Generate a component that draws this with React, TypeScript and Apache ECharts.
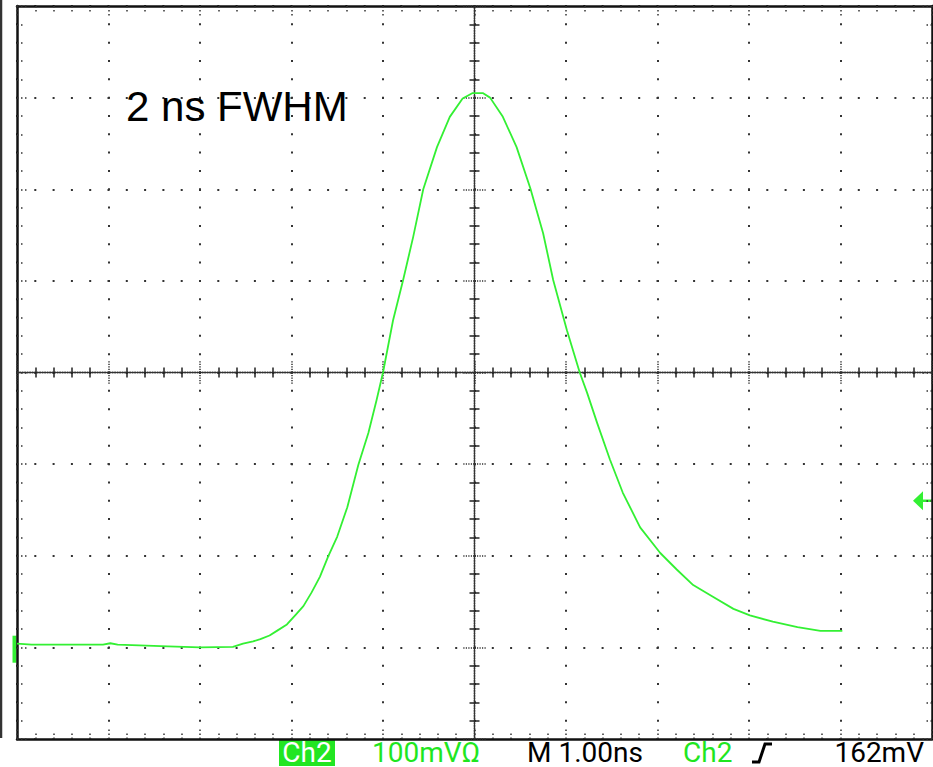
import React, { useEffect, useRef } from "react";
import * as echarts from "echarts";

// Time (ns, relative to screen centre) and voltage (mV, relative to screen centre)
const timeNs = [
  -5.0, -4.84, -4.06, -3.98, -3.9, -3.35, -3.0, -2.64, -2.53, -2.42, -2.34, -2.24, -2.16, -2.05,
  -1.96, -1.87, -1.78, -1.69, -1.6, -1.5, -1.39, -1.27, -1.16, -1.07, -1.0, -0.89, -0.78, -0.67,
  -0.56, -0.41, -0.27, -0.13, -0.02, 0.09, 0.17, 0.31, 0.46, 0.61, 0.75, 0.86, 1.01, 1.15, 1.23,
  1.34, 1.48, 1.62, 1.81, 2.03, 2.21, 2.39, 2.61, 2.83, 3.01, 3.26, 3.53, 3.78, 4.02,
];
const voltageMv = [
  -296, -297, -297, -295.5, -297, -299, -300, -299.5, -296, -293.5, -291, -287, -282, -275,
  -265, -255, -240, -223, -201, -179, -147, -101, -66, -30, 0, 57, 101, 148,
  200, 246, 279, 299, 305, 305, 300, 279, 246, 201, 152, 101, 46, 0, -22,
  -55, -95, -131, -169, -197, -215, -232, -245, -258, -265, -272, -278, -282, -282,
];

const xRange = [-5, 5]; // 1 ns / div
const yRange = [-400, 400]; // 100 mV / div
const GROUND_MV = -302;
const TRIGGER_MV = -140; // 162 mV above ground

const annotation = "2 ns FWHM";
const chLabel = "Ch2";
const voltsDiv = "100mV\u03A9";
const timeDiv = "M 1.00ns";
const trigSource = "Ch2";
const trigLevel = "162mV";

const GREEN = "#33f033";
const TEXT_GREEN = "#1fe61f";

export default function App() {
  const ref = useRef<HTMLDivElement>(null);
  useEffect(() => {
    document.body.style.margin = "0";
    if (!ref.current) return;
    const chart = echarts.init(ref.current, undefined, { renderer: "svg" });

    const dotted = { color: "#333", width: 1.5, type: [1.5, 2.5] as any };
    const borderX = (position: string) => ({
      type: "value",
      min: xRange[0],
      max: xRange[1],
      interval: 1,
      position,
      axisLine: { show: true, onZero: false, lineStyle: { color: "#111", width: 2.5 } },
      axisTick: { show: true, inside: true, length: 12, lineStyle: dotted },
      minorTick: { show: true, splitNumber: 5, length: 6, lineStyle: dotted },
      axisLabel: { show: false },
      splitLine: { show: false },
    });
    const borderY = (position: string) => ({
      type: "value",
      min: yRange[0],
      max: yRange[1],
      interval: 100,
      position,
      axisLine: { show: true, onZero: false, lineStyle: { color: "#111", width: 2.5 } },
      axisTick: { show: true, inside: true, length: 12, lineStyle: dotted },
      minorTick: { show: true, splitNumber: 5, length: 6, lineStyle: dotted },
      axisLabel: { show: false },
      splitLine: { show: false },
    });
    const centreLine = { color: "#333", width: 1.4, type: [1.2, 1.3] as any };
    const centreX = (position: string) => ({
      ...borderX(position),
      axisLine: { show: true, onZero: true, onZeroAxisIndex: 0, lineStyle: centreLine },
      axisTick: { show: true, inside: false, length: 12, lineStyle: { color: "#333", width: 1.5, type: [1.2, 1.3] as any } },
      minorTick: { show: true, splitNumber: 5, length: 5, lineStyle: { color: "#222", width: 1.5 } },
    });
    const centreY = (position: string) => ({
      ...borderY(position),
      axisLine: { show: true, onZero: true, onZeroAxisIndex: 0, lineStyle: centreLine },
      axisTick: { show: true, inside: false, length: 12, lineStyle: { color: "#333", width: 1.5, type: [1.2, 1.3] as any } },
      minorTick: { show: true, splitNumber: 5, length: 5, lineStyle: { color: "#222", width: 1.5 } },
    });

    const x0 = borderX("bottom") as any;
    x0.splitLine = {
      show: true,
      lineStyle: { color: "#333", width: 2, type: [2, 16.325], dashOffset: 1 },
    };
    const y0 = borderY("left") as any;
    y0.splitLine = {
      show: true,
      lineStyle: { color: "#333", width: 2, type: [2, 16.3], dashOffset: 1 },
    };

    chart.setOption({
      animation: false,
      backgroundColor: "#fff",
      grid: { left: 17, top: 6, width: 915, height: 733, containLabel: false, outerBoundsMode: "none" } as any,
      xAxis: [x0, borderX("top"), centreX("bottom"), centreX("top")],
      yAxis: [y0, borderY("right"), centreY("left"), centreY("right")],
      series: [
        {
          type: "line",
          xAxisIndex: 0,
          yAxisIndex: 0,
          data: timeNs.map((t, i) => [t, voltageMv[i]]),
          showSymbol: false,
          symbol: "none",
          smooth: false,
          lineStyle: { color: GREEN, width: 1.8, join: "round" },
          z: 5,
        },
      ],
    });

    const gy = chart.convertToPixel({ yAxisIndex: 0 }, GROUND_MV) as number;
    const ty = chart.convertToPixel({ yAxisIndex: 0 }, TRIGGER_MV) as number;

    const statusFont = { fontFamily: "Roboto", fontSize: 28, lineHeight: 22 };
    const sy = 752;
    chart.setOption({
      graphic: [
        { type: "line", shape: { x1: 1, y1: 0, x2: 1, y2: 738 }, style: { stroke: "#333", lineWidth: 2.5 } },
        { type: "rect", shape: { x: 12.5, y: gy - 13.5, width: 4, height: 27 }, style: { fill: GREEN } },
        {
          type: "polygon",
          shape: { points: [[913, ty], [923, ty - 9.5], [923, ty + 9.5]] },
          style: { fill: GREEN },
        },
        { type: "line", shape: { x1: 921, y1: ty, x2: 933, y2: ty }, style: { stroke: GREEN, lineWidth: 2.5 } },
        {
          type: "text",
          x: 126,
          y: 106,
          style: { text: annotation, fontFamily: "Liberation Sans", fontSize: 42, fill: "#000", verticalAlign: "middle", align: "left" },
        },
        { type: "rect", shape: { x: 279, y: 740, width: 56, height: 26 }, style: { fill: "#22e622" } },
        {
          type: "text",
          x: 307,
          y: sy,
          style: { text: chLabel, ...statusFont, fill: "#fff", align: "center", verticalAlign: "middle" },
        },
        {
          type: "text",
          x: 372,
          y: sy,
          style: { text: voltsDiv, ...statusFont, fill: TEXT_GREEN, align: "left", verticalAlign: "middle" },
        },
        {
          type: "text",
          x: 527,
          y: sy,
          style: { text: timeDiv, ...statusFont, fill: "#000", align: "left", verticalAlign: "middle" },
        },
        {
          type: "text",
          x: 683,
          y: sy,
          style: { text: trigSource, ...statusFont, fill: TEXT_GREEN, align: "left", verticalAlign: "middle" },
        },
        {
          type: "polyline",
          shape: { points: [[752, 762], [759, 762], [765, 744], [772, 744]] },
          style: { stroke: "#000", lineWidth: 3, fill: null },
        },
        {
          type: "text",
          x: 924,
          y: sy,
          style: { text: trigLevel, ...statusFont, fill: "#000", align: "right", verticalAlign: "middle" },
        },
      ],
    });

    return () => chart.dispose();
  }, []);
  return <div ref={ref} style={{ width: 933, height: 767 }} />;
}
